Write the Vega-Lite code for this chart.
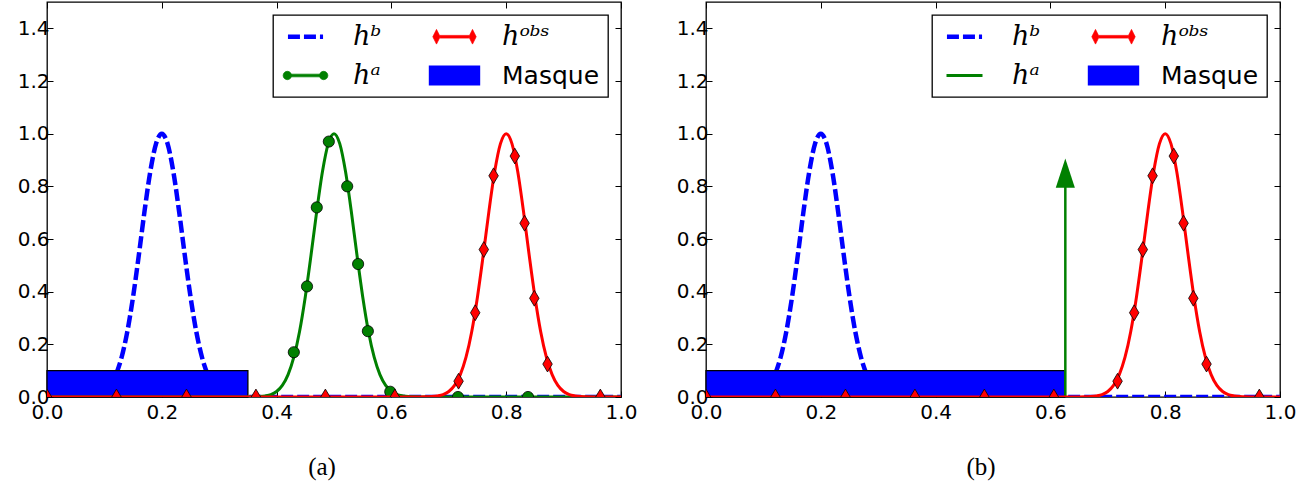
{
  "$schema": "https://vega.github.io/schema/vega-lite/v6.json",
  "background": "white",
  "padding": {"left": 16, "top": 0, "right": 5, "bottom": 2},
  "bounds": "flush",
  "spacing": 85,
  "config": {
    "view": {"stroke": "black", "strokeWidth": 1.3},
    "axis": {"grid": false, "domain": false, "labelFont": "DejaVu Sans", "labelFontSize": 20, "labelColor": "black", "tickColor": "black", "tickSize": -6, "tickWidth": 1, "title": null, "labelPadding": 11, "labelFlush": false},
    "title": {"font": "Liberation Serif", "fontSize": 25, "fontWeight": "normal", "color": "black"}
  },
  "datasets": {
    "curves": [
      {"s":"hb","x":0,"y":0},{"s":"hb","x":0.05,"y":0.0002},{"s":"hb","x":0.06,"y":0.0005},{"s":"hb","x":0.07,"y":0.0015},{"s":"hb","x":0.08,"y":0.004},{"s":"hb","x":0.09,"y":0.009},{"s":"hb","x":0.1,"y":0.021},{"s":"hb","x":0.11,"y":0.044},{"s":"hb","x":0.12,"y":0.085},{"s":"hb","x":0.13,"y":0.151},{"s":"hb","x":0.14,"y":0.249},{"s":"hb","x":0.15,"y":0.381},{"s":"hb","x":0.16,"y":0.539},{"s":"hb","x":0.17,"y":0.707},{"s":"hb","x":0.18,"y":0.857},{"s":"hb","x":0.19,"y":0.962},{"s":"hb","x":0.2,"y":1},{"s":"hb","x":0.21,"y":0.962},{"s":"hb","x":0.22,"y":0.857},{"s":"hb","x":0.23,"y":0.707},{"s":"hb","x":0.24,"y":0.539},{"s":"hb","x":0.25,"y":0.381},{"s":"hb","x":0.26,"y":0.249},{"s":"hb","x":0.27,"y":0.151},{"s":"hb","x":0.28,"y":0.085},{"s":"hb","x":0.29,"y":0.044},{"s":"hb","x":0.3,"y":0.021},{"s":"hb","x":0.31,"y":0.009},{"s":"hb","x":0.32,"y":0.004},{"s":"hb","x":0.33,"y":0.0015},{"s":"hb","x":0.34,"y":0.0005},{"s":"hb","x":0.35,"y":0.0002},{"s":"hb","x":1,"y":0},
      {"s":"ha","x":0,"y":0},{"s":"ha","x":0.35,"y":0.0002},{"s":"ha","x":0.36,"y":0.0005},{"s":"ha","x":0.37,"y":0.0015},{"s":"ha","x":0.38,"y":0.004},{"s":"ha","x":0.39,"y":0.009},{"s":"ha","x":0.4,"y":0.021},{"s":"ha","x":0.41,"y":0.044},{"s":"ha","x":0.42,"y":0.085},{"s":"ha","x":0.43,"y":0.151},{"s":"ha","x":0.44,"y":0.249},{"s":"ha","x":0.45,"y":0.381},{"s":"ha","x":0.46,"y":0.539},{"s":"ha","x":0.47,"y":0.707},{"s":"ha","x":0.48,"y":0.857},{"s":"ha","x":0.49,"y":0.962},{"s":"ha","x":0.5,"y":1},{"s":"ha","x":0.51,"y":0.962},{"s":"ha","x":0.52,"y":0.857},{"s":"ha","x":0.53,"y":0.707},{"s":"ha","x":0.54,"y":0.539},{"s":"ha","x":0.55,"y":0.381},{"s":"ha","x":0.56,"y":0.249},{"s":"ha","x":0.57,"y":0.151},{"s":"ha","x":0.58,"y":0.085},{"s":"ha","x":0.59,"y":0.044},{"s":"ha","x":0.6,"y":0.021},{"s":"ha","x":0.61,"y":0.009},{"s":"ha","x":0.62,"y":0.004},{"s":"ha","x":0.63,"y":0.0015},{"s":"ha","x":0.64,"y":0.0005},{"s":"ha","x":0.65,"y":0.0002},{"s":"ha","x":1,"y":0},
      {"s":"hobs","x":0,"y":0},{"s":"hobs","x":0.65,"y":0.0002},{"s":"hobs","x":0.66,"y":0.0005},{"s":"hobs","x":0.67,"y":0.0015},{"s":"hobs","x":0.68,"y":0.004},{"s":"hobs","x":0.69,"y":0.009},{"s":"hobs","x":0.7,"y":0.021},{"s":"hobs","x":0.71,"y":0.044},{"s":"hobs","x":0.72,"y":0.085},{"s":"hobs","x":0.73,"y":0.151},{"s":"hobs","x":0.74,"y":0.249},{"s":"hobs","x":0.75,"y":0.381},{"s":"hobs","x":0.76,"y":0.539},{"s":"hobs","x":0.77,"y":0.707},{"s":"hobs","x":0.78,"y":0.857},{"s":"hobs","x":0.79,"y":0.962},{"s":"hobs","x":0.8,"y":1},{"s":"hobs","x":0.81,"y":0.962},{"s":"hobs","x":0.82,"y":0.857},{"s":"hobs","x":0.83,"y":0.707},{"s":"hobs","x":0.84,"y":0.539},{"s":"hobs","x":0.85,"y":0.381},{"s":"hobs","x":0.86,"y":0.249},{"s":"hobs","x":0.87,"y":0.151},{"s":"hobs","x":0.88,"y":0.085},{"s":"hobs","x":0.89,"y":0.044},{"s":"hobs","x":0.9,"y":0.021},{"s":"hobs","x":0.91,"y":0.009},{"s":"hobs","x":0.92,"y":0.004},{"s":"hobs","x":0.93,"y":0.0015},{"s":"hobs","x":0.94,"y":0.0005},{"s":"hobs","x":0.95,"y":0.0002},{"s":"hobs","x":1,"y":0}
    ],
    "markers": [
      {"s":"ha","x":0.43,"y":0.17},{"s":"ha","x":0.453,"y":0.42},{"s":"ha","x":0.47,"y":0.72},{"s":"ha","x":0.491,"y":0.97},{"s":"ha","x":0.523,"y":0.8},{"s":"ha","x":0.542,"y":0.505},{"s":"ha","x":0.559,"y":0.25},{"s":"ha","x":0.598,"y":0.02},{"s":"ha","x":0.716,"y":0},{"s":"ha","x":0.838,"y":0},
      {"s":"hobs","x":0,"y":0},{"s":"hobs","x":0.121,"y":0},{"s":"hobs","x":0.243,"y":0},{"s":"hobs","x":0.364,"y":0},{"s":"hobs","x":0.485,"y":0},{"s":"hobs","x":0.606,"y":0},{"s":"hobs","x":0.717,"y":0.06},{"s":"hobs","x":0.746,"y":0.32},{"s":"hobs","x":0.761,"y":0.56},{"s":"hobs","x":0.778,"y":0.84},{"s":"hobs","x":0.815,"y":0.915},{"s":"hobs","x":0.832,"y":0.66},{"s":"hobs","x":0.849,"y":0.375},{"s":"hobs","x":0.872,"y":0.125},{"s":"hobs","x":0.964,"y":0}
    ],
    "mask": [
      {"panel":"a","s":"Masque","x0":0,"x1":0.35,"y0":0,"y1":0.1},
      {"panel":"b","s":"Masque","x0":0,"x1":0.625,"y0":0,"y1":0.1}
    ],
    "arrow": [
      {"s":"ha","x":0.626,"y0":0,"y1":0.8,"yh":0.85}
    ]
  },
  "resolve": {"scale": {"color": "independent"}, "legend": {"color": "independent"}},
  "hconcat": [
    {
      "width": 574, "height": 395,
      "title": {"text": "(a)", "orient": "bottom", "anchor": "middle", "dx": -12, "offset": 33},
      "resolve": {"axis": {"x": "independent", "y": "independent"}},
      "layer": [
        {
          "data": {"name": "curves"},
          "transform": [{"filter": "datum.s == 'hb'"}],
          "mark": {"type": "line", "strokeWidth": 4.5, "strokeDash": [12, 4], "interpolate": "monotone", "clip": true},
          "encoding": {
            "x": {"field": "x", "type": "quantitative", "scale": {"domain": [0, 1], "nice": false}, "axis": {"orient": "bottom", "values": [0, 0.2, 0.4, 0.6, 0.8, 1], "format": ".1f"}},
            "y": {"field": "y", "type": "quantitative", "scale": {"domain": [0, 1.5], "nice": false}, "axis": {"orient": "left", "values": [0, 0.2, 0.4, 0.6, 0.8, 1, 1.2, 1.4], "format": ".1f", "labelPadding": 4}},
            "color": {"field": "s", "type": "nominal", "scale": {"domain": ["hb", "ha", "hobs", "Masque"], "range": ["#0000ff", "#008000", "#ff0000", "#0000ff"]},
              "legend": {
                "orient": "top-right", "offset": 13, "title": null, "columns": 2, "gridAlign": "each",
                "fillColor": "white", "strokeColor": "black", "padding": 8,
                "symbolSize": 900, "symbolOffset": 11, "labelOffset": 34,
                "columnPadding": 44, "rowPadding": 11,
                "labelFont": "DejaVu Serif", "labelFontSize": 27, "labelColor": "black", "labelLimit": 0,
                "labelExpr": "datum.value == 'hb' ? 'hᵇ' : datum.value == 'ha' ? 'hᵃ' : datum.value == 'hobs' ? 'hᵒᵇˢ' : 'Masque'",
                "encode": {
                  "legend": {"update": {"strokeWidth": {"value": 1.3}}},
                  "symbols": {"update": {
                    "shape": {"signal": "datum.value == 'hb' ? 'M-1.17,0H1.17' : datum.value == 'ha' ? 'M-0.93,-0.09H0.93V0.09H-0.93Z M-0.93,0A0.28,0.28 0 1,1 -1.49,0A0.28,0.28 0 1,1 -0.93,0Z M1.49,0A0.28,0.28 0 1,1 0.93,0A0.28,0.28 0 1,1 1.49,0Z' : datum.value == 'hobs' ? 'M-0.96,-0.09H0.96V0.09H-0.96Z M-1.2,-0.49L-0.955,0L-1.2,0.49L-1.445,0Z M1.2,-0.49L1.445,0L1.2,0.49L0.955,0Z' : 'M-1.67,-0.63H1.67V0.63H-1.67Z'"},
                    "fill": {"signal": "datum.value == 'hb' ? 'transparent' : datum.value == 'ha' ? '#008000' : datum.value == 'hobs' ? '#ff0000' : '#0000ff'"},
                    "stroke": {"signal": "datum.value == 'hb' ? '#0000ff' : 'black'"},
                    "strokeWidth": {"signal": "datum.value == 'hb' ? 4.5 : datum.value == 'Masque' ? 1.3 : 0.7"},
                    "strokeDash": {"signal": "datum.value == 'hb' ? [12, 4] : []"},
                    "opacity": {"value": 1}
                  }},
                  "labels": {"update": {
                    "font": {"signal": "datum.value == 'Masque' ? 'DejaVu Sans' : 'DejaVu Serif'"},
                    "fontStyle": {"signal": "datum.value == 'Masque' ? 'normal' : 'italic'"},
                    "fontSize": {"signal": "datum.value == 'Masque' ? 25 : 27"}
                  }}
                }
              }
            }
          }
        },
        {
          "data": {"name": "mask"},
          "transform": [{"filter": "datum.panel == 'a'"}],
          "mark": {"type": "rect", "stroke": "black", "strokeWidth": 1.3},
          "encoding": {
            "x": {"field": "x0", "type": "quantitative", "axis": {"orient": "top", "values": [0, 0.2, 0.4, 0.6, 0.8, 1], "labels": false}},
            "x2": {"field": "x1"},
            "y": {"field": "y0", "type": "quantitative", "axis": {"orient": "right", "values": [0, 0.2, 0.4, 0.6, 0.8, 1, 1.2, 1.4], "labels": false}},
            "y2": {"field": "y1"},
            "color": {"field": "s", "type": "nominal"}
          }
        },
        {
          "data": {"name": "curves"},
          "transform": [{"filter": "datum.s == 'ha'"}],
          "mark": {"type": "line", "strokeWidth": 3, "interpolate": "monotone", "clip": true},
          "encoding": {
            "x": {"field": "x", "type": "quantitative", "axis": null},
            "y": {"field": "y", "type": "quantitative", "axis": null},
            "color": {"field": "s", "type": "nominal"}
          }
        },
        {
          "data": {"name": "markers"},
          "transform": [{"filter": "datum.s == 'ha'"}],
          "mark": {"type": "point", "shape": "circle", "filled": true, "size": 125, "stroke": "black", "strokeWidth": 0.8, "opacity": 1, "clip": true},
          "encoding": {
            "x": {"field": "x", "type": "quantitative", "axis": null},
            "y": {"field": "y", "type": "quantitative", "axis": null},
            "color": {"field": "s", "type": "nominal"}
          }
        },
        {
          "data": {"name": "curves"},
          "transform": [{"filter": "datum.s == 'hobs'"}],
          "mark": {"type": "line", "strokeWidth": 3, "interpolate": "monotone", "clip": true},
          "encoding": {
            "x": {"field": "x", "type": "quantitative", "axis": null},
            "y": {"field": "y", "type": "quantitative", "axis": null},
            "color": {"field": "s", "type": "nominal"}
          }
        },
        {
          "data": {"name": "markers"},
          "transform": [{"filter": "datum.s == 'hobs'"}],
          "mark": {"type": "point", "shape": "M0,-1L0.6,0L0,1L-0.6,0Z", "filled": true, "size": 250, "stroke": "black", "strokeWidth": 0.8, "opacity": 1, "clip": true},
          "encoding": {
            "x": {"field": "x", "type": "quantitative", "axis": null},
            "y": {"field": "y", "type": "quantitative", "axis": null},
            "color": {"field": "s", "type": "nominal"}
          }
        }
      ]
    },
    {
      "width": 574, "height": 395,
      "title": {"text": "(b)", "orient": "bottom", "anchor": "middle", "dx": -12, "offset": 33},
      "resolve": {"axis": {"x": "independent", "y": "independent"}},
      "layer": [
        {
          "data": {"name": "curves"},
          "transform": [{"filter": "datum.s == 'hb'"}],
          "mark": {"type": "line", "strokeWidth": 4.5, "strokeDash": [12, 4], "interpolate": "monotone", "clip": true},
          "encoding": {
            "x": {"field": "x", "type": "quantitative", "scale": {"domain": [0, 1], "nice": false}, "axis": {"orient": "bottom", "values": [0, 0.2, 0.4, 0.6, 0.8, 1], "format": ".1f"}},
            "y": {"field": "y", "type": "quantitative", "scale": {"domain": [0, 1.5], "nice": false}, "axis": {"orient": "left", "values": [0, 0.2, 0.4, 0.6, 0.8, 1, 1.2, 1.4], "format": ".1f", "labelPadding": 4}},
            "color": {"field": "s", "type": "nominal", "scale": {"domain": ["hb", "ha", "hobs", "Masque"], "range": ["#0000ff", "#008000", "#ff0000", "#0000ff"]},
              "legend": {
                "orient": "top-right", "offset": 13, "title": null, "columns": 2, "gridAlign": "each",
                "fillColor": "white", "strokeColor": "black", "padding": 8,
                "symbolSize": 900, "symbolOffset": 11, "labelOffset": 34,
                "columnPadding": 44, "rowPadding": 11,
                "labelFont": "DejaVu Serif", "labelFontSize": 27, "labelColor": "black", "labelLimit": 0,
                "labelExpr": "datum.value == 'hb' ? 'hᵇ' : datum.value == 'ha' ? 'hᵃ' : datum.value == 'hobs' ? 'hᵒᵇˢ' : 'Masque'",
                "encode": {
                  "legend": {"update": {"strokeWidth": {"value": 1.3}}},
                  "symbols": {"update": {
                    "shape": {"signal": "datum.value == 'hb' ? 'M-1.17,0H1.17' : datum.value == 'ha' ? 'M-1.2,0H1.2' : datum.value == 'hobs' ? 'M-0.96,-0.09H0.96V0.09H-0.96Z M-1.2,-0.49L-0.955,0L-1.2,0.49L-1.445,0Z M1.2,-0.49L1.445,0L1.2,0.49L0.955,0Z' : 'M-1.67,-0.63H1.67V0.63H-1.67Z'"},
                    "fill": {"signal": "datum.value == 'hb' ? 'transparent' : datum.value == 'ha' ? 'transparent' : datum.value == 'hobs' ? '#ff0000' : '#0000ff'"},
                    "stroke": {"signal": "datum.value == 'hb' ? '#0000ff' : datum.value == 'ha' ? '#008000' : 'black'"},
                    "strokeWidth": {"signal": "datum.value == 'hb' ? 4.5 : datum.value == 'ha' ? 3 : datum.value == 'Masque' ? 1.3 : 0.7"},
                    "strokeDash": {"signal": "datum.value == 'hb' ? [12, 4] : []"},
                    "opacity": {"value": 1}
                  }},
                  "labels": {"update": {
                    "font": {"signal": "datum.value == 'Masque' ? 'DejaVu Sans' : 'DejaVu Serif'"},
                    "fontStyle": {"signal": "datum.value == 'Masque' ? 'normal' : 'italic'"},
                    "fontSize": {"signal": "datum.value == 'Masque' ? 25 : 27"}
                  }}
                }
              }
            }
          }
        },
        {
          "data": {"name": "mask"},
          "transform": [{"filter": "datum.panel == 'b'"}],
          "mark": {"type": "rect", "stroke": "black", "strokeWidth": 1.3},
          "encoding": {
            "x": {"field": "x0", "type": "quantitative", "axis": {"orient": "top", "values": [0, 0.2, 0.4, 0.6, 0.8, 1], "labels": false}},
            "x2": {"field": "x1"},
            "y": {"field": "y0", "type": "quantitative", "axis": {"orient": "right", "values": [0, 0.2, 0.4, 0.6, 0.8, 1, 1.2, 1.4], "labels": false}},
            "y2": {"field": "y1"},
            "color": {"field": "s", "type": "nominal"}
          }
        },
        {
          "data": {"name": "arrow"},
          "mark": {"type": "rule", "strokeWidth": 2.5},
          "encoding": {
            "x": {"field": "x", "type": "quantitative", "axis": null},
            "y": {"field": "y0", "type": "quantitative", "axis": null},
            "y2": {"field": "y1"},
            "color": {"field": "s", "type": "nominal"}
          }
        },
        {
          "data": {"name": "arrow"},
          "mark": {"type": "point", "shape": "M0,-1L0.65,1L-0.65,1Z", "filled": true, "size": 864, "strokeWidth": 0, "opacity": 1},
          "encoding": {
            "x": {"field": "x", "type": "quantitative", "axis": null},
            "y": {"field": "yh", "type": "quantitative", "axis": null},
            "color": {"field": "s", "type": "nominal"}
          }
        },
        {
          "data": {"name": "curves"},
          "transform": [{"filter": "datum.s == 'hobs'"}],
          "mark": {"type": "line", "strokeWidth": 3, "interpolate": "monotone", "clip": true},
          "encoding": {
            "x": {"field": "x", "type": "quantitative", "axis": null},
            "y": {"field": "y", "type": "quantitative", "axis": null},
            "color": {"field": "s", "type": "nominal"}
          }
        },
        {
          "data": {"name": "markers"},
          "transform": [{"filter": "datum.s == 'hobs'"}],
          "mark": {"type": "point", "shape": "M0,-1L0.6,0L0,1L-0.6,0Z", "filled": true, "size": 250, "stroke": "black", "strokeWidth": 0.8, "opacity": 1, "clip": true},
          "encoding": {
            "x": {"field": "x", "type": "quantitative", "axis": null},
            "y": {"field": "y", "type": "quantitative", "axis": null},
            "color": {"field": "s", "type": "nominal"}
          }
        }
      ]
    }
  ]
}
